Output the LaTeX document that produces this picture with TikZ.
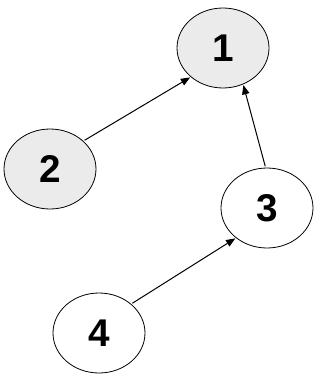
\documentclass[tikz,border=0pt]{standalone}
\usepackage{fontspec}
\setmainfont{Liberation Sans}
\usetikzlibrary{shapes.geometric,arrows.meta}
\definecolor{nodegray}{HTML}{EBEBEB}
\tikzset{
  state/.style={ellipse, draw=black, line width=0.6pt, minimum width=69pt, minimum height=60pt, inner sep=0pt, font=\fontsize{29}{29}\selectfont\bfseries},
  grayst/.style={state, fill=nodegray},
  whitest/.style={state, fill=white},
  edge/.style={line width=0.75pt, -{Triangle[length=7pt,width=5.5pt]}, shorten <=1pt, shorten >=0.5pt}
}
\begin{document}
\begin{tikzpicture}[x=0.75pt,y=-0.75pt]
\useasboundingbox (0,0) rectangle (325,382);
\node[grayst] (n1) at (223,48) {1};
\node[grayst] (n2) at (50,169) {2};
\node[whitest] (n3) at (267,208) {3};
\node[whitest] (n4) at (99,333) {4};
\draw[edge] (n2.40) -- (n1.222);
\draw[edge] (n3.92) -- (n1.-61);
\draw[edge] (n4.42) -- (n3.224);
\end{tikzpicture}
\end{document}
